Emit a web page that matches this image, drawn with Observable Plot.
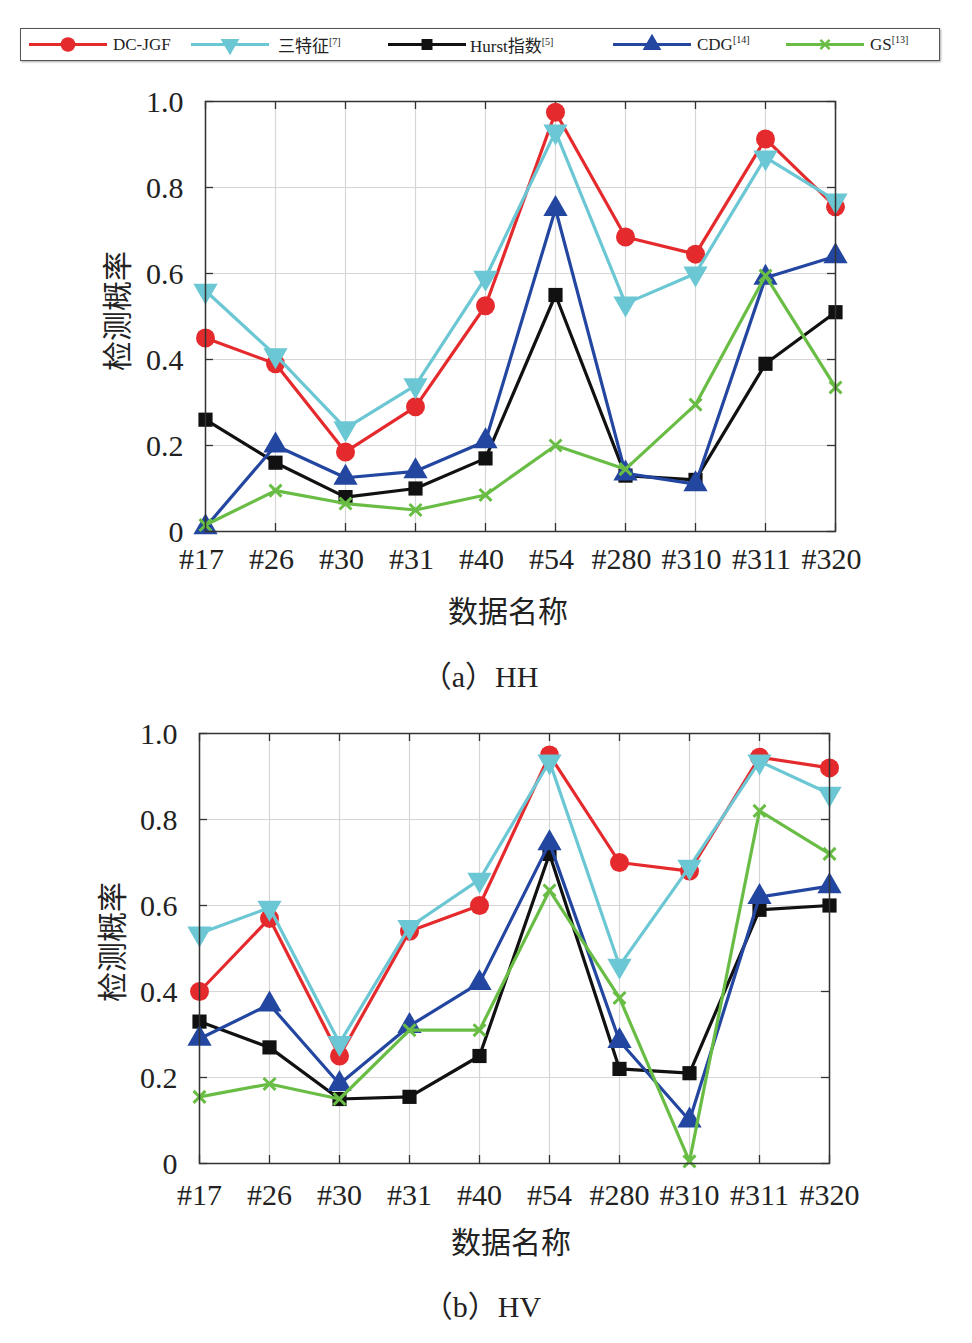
<!DOCTYPE html>
<html><head><meta charset="utf-8">
<script src="https://cdn.jsdelivr.net/npm/d3@7"></script>
<script src="https://cdn.jsdelivr.net/npm/@observablehq/plot@0.6"></script>
<style>
body{margin:0;background:#fff;width:972px;height:1343px;position:relative;overflow:hidden;font-family:"Liberation Serif","Noto Sans CJK SC",serif;color:#222}
.abs{position:absolute}
#legend{left:20px;top:28px;width:918px;height:31px;border:1.8px solid #555;box-shadow:1px 1px 2px #aaa}
.item{position:absolute;top:0;height:31px;display:flex;align-items:center;font-size:17px;white-space:nowrap}
.item sup{font-size:10px;vertical-align:7px;line-height:0}
.ytitle{font-size:30px;transform:translate(-50%,-50%) rotate(-90deg);white-space:nowrap;line-height:1}
.xtitle{font-size:30px;transform:translate(-50%,-50%);white-space:nowrap;line-height:1}
.cap{font-size:30px;transform:translate(-50%,-50%);white-space:nowrap;line-height:1}
</style></head><body>
<div id="legend" class="abs"></div>
<div id="c1" class="abs" style="left:0;top:80px"></div>
<div id="c2" class="abs" style="left:0;top:712px"></div>
<div class="abs ytitle" style="left:118px;top:311px">检测概率</div>
<div class="abs xtitle" style="left:508px;top:612px">数据名称</div>
<div class="abs cap" style="left:480px;top:677px">（a）HH</div>
<div class="abs ytitle" style="left:113px;top:942px">检测概率</div>
<div class="abs xtitle" style="left:511px;top:1243px">数据名称</div>
<div class="abs cap" style="left:482px;top:1307px">（b）HV</div>
<script>
// ---- data ----
const categories = ["#17","#26","#30","#31","#40","#54","#280","#310","#311","#320"];
const seriesNames = ["DC-JGF","三特征","Hurst指数","CDG","GS"];
const seriesRefs = ["", "[7]", "[5]", "[14]", "[13]"];
const yTicks = [0, 0.2, 0.4, 0.6, 0.8, 1.0];

// (a) HH
const hhDCJGF = [0.45, 0.39, 0.185, 0.29, 0.525, 0.975, 0.685, 0.645, 0.913, 0.755];
const hhSan   = [0.56, 0.41, 0.24, 0.34, 0.59, 0.93, 0.53, 0.60, 0.87, 0.77];
const hhHurst = [0.26, 0.16, 0.08, 0.10, 0.17, 0.55, 0.13, 0.12, 0.39, 0.51];
const hhCDG   = [0.01, 0.20, 0.125, 0.14, 0.21, 0.75, 0.135, 0.11, 0.59, 0.64];
const hhGS    = [0.015, 0.095, 0.065, 0.05, 0.085, 0.20, 0.145, 0.295, 0.595, 0.335];

// (b) HV
const hvDCJGF = [0.40, 0.57, 0.25, 0.54, 0.60, 0.95, 0.70, 0.68, 0.945, 0.92];
const hvSan   = [0.535, 0.595, 0.28, 0.55, 0.66, 0.935, 0.46, 0.69, 0.935, 0.86];
const hvHurst = [0.33, 0.27, 0.15, 0.155, 0.25, 0.72, 0.22, 0.21, 0.59, 0.60];
const hvCDG   = [0.29, 0.37, 0.185, 0.32, 0.42, 0.745, 0.285, 0.10, 0.62, 0.645];
const hvGS    = [0.155, 0.185, 0.15, 0.31, 0.31, 0.635, 0.385, 0.005, 0.82, 0.72];

// ---- styles ----
const colors = ["#e52a2d", "#6bc7d3", "#111111", "#2346a0", "#69bd45"];
const triangleDown = {
  draw(context, size) {
    const s3 = Math.sqrt(3);
    const y = Math.sqrt(size / (s3 * 3));
    context.moveTo(0, y * 2);
    context.lineTo(-s3 * y, -y);
    context.lineTo(s3 * y, -y);
    context.closePath();
  }
};
const symbols = ["circle", triangleDown, "square", "triangle", "times"];
const radii = [9.5, 9, 8, 9, 5.5];
const filled = [true, true, true, true, false];

function toRows(arrs) {
  const rows = [];
  arrs.forEach((vals, si) => vals.forEach((v, i) => rows.push({cat: categories[i], value: v, series: seriesNames[si]})));
  return rows;
}

const fmt = d => d === 0 ? "0" : d.toFixed(1);

function chart(arrs, ml, mr, xPad, xdx) {
  const rows = toRows(arrs);
  const h = 500, mt = 21, mb = 49;
  const fh = h - mt - mb, fw = 972 - ml - mr;
  const tick = 8;
  const marks = [
    Plot.gridX(categories, {stroke: "#d6d6d6", strokeOpacity: 1, strokeWidth: 1.2}),
    Plot.gridY(yTicks, {stroke: "#d6d6d6", strokeOpacity: 1, strokeWidth: 1.2}),
    Plot.ruleX(categories, {x: d => d, insetTop: fh - tick, stroke: "#333", strokeWidth: 1.3}),
    Plot.ruleX(categories, {x: d => d, insetBottom: fh - tick, stroke: "#333", strokeWidth: 1.3}),
    Plot.ruleY(yTicks, {y: d => d, insetRight: fw - tick, stroke: "#333", strokeWidth: 1.3}),
    Plot.ruleY(yTicks, {y: d => d, insetLeft: fw - tick, stroke: "#333", strokeWidth: 1.3}),
    Plot.axisX({ticks: categories, tickSize: 0, tickPadding: xPad, dx: xdx, label: null, fontSize: 30}),
    Plot.axisY({ticks: yTicks, tickSize: 0, tickPadding: 22, dy: 1, tickFormat: fmt, label: null, fontSize: 30})
  ];
  seriesNames.forEach((name, si) => {
    const d = rows.filter(r => r.series === name);
    marks.push(Plot.line(d, {x: "cat", y: "value", stroke: colors[si], strokeWidth: 3.2}));
    marks.push(Plot.dot(d, filled[si]
      ? {x: "cat", y: "value", symbol: symbols[si], r: radii[si], fill: colors[si], stroke: "none"}
      : {x: "cat", y: "value", symbol: symbols[si], r: radii[si], stroke: colors[si], strokeWidth: 3, fill: "none"}));
  });
  marks.push(Plot.frame({stroke: "#333", strokeWidth: 1.5}));
  return Plot.plot({
    width: 972, height: h,
    marginLeft: ml, marginRight: mr, marginTop: mt, marginBottom: mb,
    x: {type: "point", domain: categories, padding: 0},
    y: {domain: [0, 1]},
    style: {fontFamily: '"Liberation Serif","Noto Sans CJK SC",serif', color: "#222", background: "transparent", overflow: "visible"},
    marks
  });
}

document.getElementById("c1").appendChild(chart([hhDCJGF, hhSan, hhHurst, hhCDG, hhGS], 205, 137, 16, -4));
document.getElementById("c2").appendChild(chart([hvDCJGF, hvSan, hvHurst, hvCDG, hvGS], 199, 143, 20, 0));

// ---- legend ----
const legend = document.getElementById("legend");
const lineX = [8, 170, 367, 592, 765];
const labelX = [92, 257, 449, 676, 849];
seriesNames.forEach((name, si) => {
  const it = document.createElement("div");
  it.className = "item";
  it.style.left = lineX[si] + "px";
  const svg = d3.create("svg").attr("width", labelX[si] - lineX[si]).attr("height", 31).style("display", "block");
  const L = 78;
  svg.append("line").attr("x1", 0).attr("x2", L).attr("y1", 15.5).attr("y2", 15.5).attr("stroke", colors[si]).attr("stroke-width", 3);
  const sym = typeof symbols[si] === "string"
    ? {circle: d3.symbolCircle, square: d3.symbolSquare, triangle: d3.symbolTriangle, times: d3.symbolTimes}[symbols[si]]
    : symbols[si];
  const size = Math.PI * radii[si] * radii[si] * 0.6;
  const p = svg.append("path").attr("d", d3.symbol(sym, size)()).attr("transform", `translate(${L/2},15.5)`);
  if (filled[si]) p.attr("fill", colors[si]); else p.attr("fill", "none").attr("stroke", colors[si]).attr("stroke-width", 2.5);
  it.appendChild(svg.node());
  const lab = document.createElement("span");
  lab.innerHTML = name + (seriesRefs[si] ? `<sup>${seriesRefs[si]}</sup>` : "");
  it.appendChild(lab);
  legend.appendChild(it);
});
</script>
</body></html>
